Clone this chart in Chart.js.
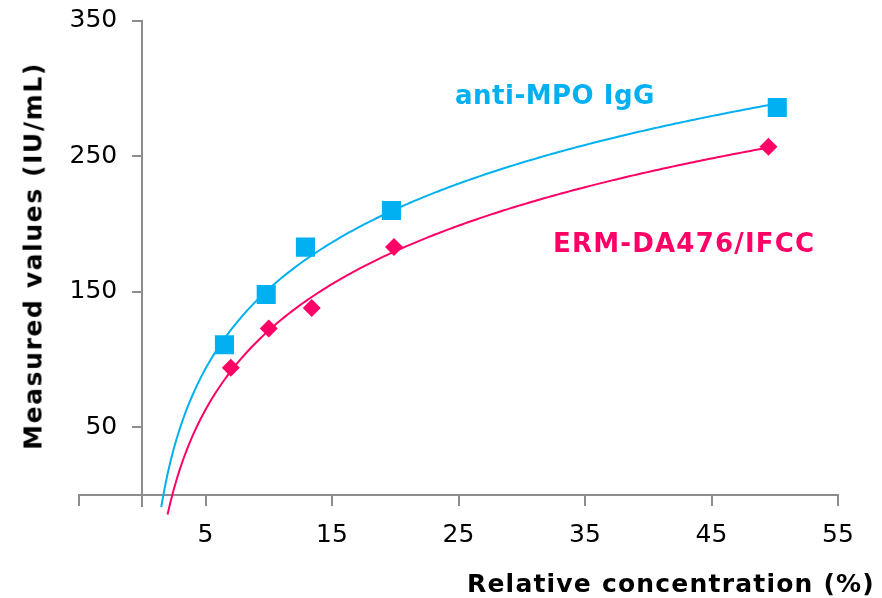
<!DOCTYPE html>
<html>
<head>
<meta charset="utf-8">
<script src="https://cdn.jsdelivr.net/npm/chart.js@4/dist/chart.umd.min.js"></script>
<style>
  html, body { margin: 0; padding: 0; background: #fff; }
  #wrap { position: relative; width: 882px; height: 598px; }
  canvas { position: absolute; left: 0; top: 0; }
  .lbl { position: absolute; font-family: "DejaVu Sans", sans-serif; font-weight: bold; white-space: nowrap; line-height: 1; }
</style>
</head>
<body>
<div id="wrap">
  <canvas id="c" width="882" height="598"></canvas>
  <div class="lbl" id="ytitle" style="font-size:25px;letter-spacing:1.6px;color:#000;left:33px;top:256px;transform:translate(-50%,-50%) rotate(-90deg);">Measured values (IU/mL)</div>
  <div class="lbl" id="xtitle" style="font-size:25px;letter-spacing:1.2px;color:#000;left:467px;top:583px;transform:translate(0,-50%);">Relative concentration (%)</div>
  <div class="lbl" id="s1" style="font-size:26px;letter-spacing:0.5px;color:#00B0F0;left:455px;top:95px;transform:translate(0,-50%);">anti-MPO IgG</div>
  <div class="lbl" id="s2" style="font-size:26px;letter-spacing:1.2px;color:#FF0066;left:553px;top:243px;transform:translate(0,-50%);">ERM-DA476/IFCC</div>
</div>
<script>
// ---- data ----
const seriesNames = ["anti-MPO IgG", "ERM-DA476/IFCC"];
const antiX = [6.5, 9.8, 12.9, 19.7, 50.2];
const antiY = [111, 148, 183, 210, 286];
const ermX = [7.0, 10.0, 13.4, 19.9, 49.5];
const ermY = [94, 123, 138, 183, 257];
const xTickValues = [-5, 5, 15, 25, 35, 45, 55];
const yTickValues = [50, 150, 250, 350];
const trendBackward = 5; // trendline backward forecast (x units)

// logarithmic least-squares trendline (y = a ln x + b), as a spreadsheet trendline
function logFit(xs, ys) {
  const n = xs.length;
  let sl = 0, sy = 0, sll = 0, sly = 0;
  for (let i = 0; i < n; i++) {
    const l = Math.log(xs[i]);
    sl += l; sy += ys[i]; sll += l * l; sly += l * ys[i];
  }
  const a = (n * sly - sl * sy) / (n * sll - sl * sl);
  const b = (sy - a * sl) / n;
  return { a, b };
}
function trendPoints(xs, ys) {
  const f = logFit(xs, ys);
  const x0 = Math.min(...xs) - trendBackward, x1 = Math.max(...xs);
  const pts = [];
  const N = 200;
  for (let i = 0; i <= N; i++) {
    const x = x0 + (x1 - x0) * i / N;
    pts.push({ x, y: f.a * Math.log(x) + f.b });
  }
  return pts;
}
const toPts = (xs, ys) => xs.map((x, i) => ({ x, y: ys[i] }));

const CYAN = "#00B0F0", PINK = "#FF0066", AX = "#8c8c8c";
const tickFont = { family: "DejaVu Sans", size: 25 };

new Chart(document.getElementById("c"), {
  type: "scatter",
  data: {
    datasets: [
      { label: seriesNames[0] + " trend", type: "line", data: trendPoints(antiX, antiY), borderColor: CYAN, borderWidth: 2, pointRadius: 0, fill: false, clip: false, order: 2 },
      { label: seriesNames[1] + " trend", type: "line", data: trendPoints(ermX, ermY), borderColor: PINK, borderWidth: 2, pointRadius: 0, fill: false, clip: false, order: 2 },
      { label: seriesNames[0], data: toPts(antiX, antiY), pointStyle: "rect", pointRadius: 13.5, backgroundColor: CYAN, borderColor: CYAN, borderWidth: 0, order: 1 },
      { label: seriesNames[1], data: toPts(ermX, ermY), pointStyle: "rectRot", pointRadius: 9, backgroundColor: PINK, borderColor: PINK, borderWidth: 0, order: 1 }
    ]
  },
  options: {
    responsive: false,
    animation: false,
    layout: { padding: { left: 79, right: 44, top: 20.7, bottom: 92 } },
    plugins: { legend: { display: false }, tooltip: { enabled: false } },
    scales: {
      x: {
        type: "linear", min: -5, max: 55,
        position: { y: 0 },
        afterBuildTicks: s => { s.ticks = xTickValues.map(v => ({ value: v })); },
        ticks: { callback: v => (v < 0 ? "" : String(v)), font: tickFont, color: "#000", padding: 15, maxRotation: 0, autoSkip: false },
        grid: { drawOnChartArea: false, drawTicks: true, tickLength: 10, color: AX, lineWidth: 2 },
        border: { color: AX, width: 2 }
      },
      y: {
        type: "linear", min: -8, max: 350,
        position: { x: 0 },
        afterBuildTicks: s => { s.ticks = yTickValues.map(v => ({ value: v })); },
        ticks: { callback: v => String(v) + "\u2003", font: tickFont, color: "#000", padding: 0, autoSkip: false },
        grid: { drawOnChartArea: false, drawTicks: true, tickLength: 9, color: AX, lineWidth: 2 },
        border: { color: AX, width: 2 }
      }
    }
  }
});
</script>
</body>
</html>
